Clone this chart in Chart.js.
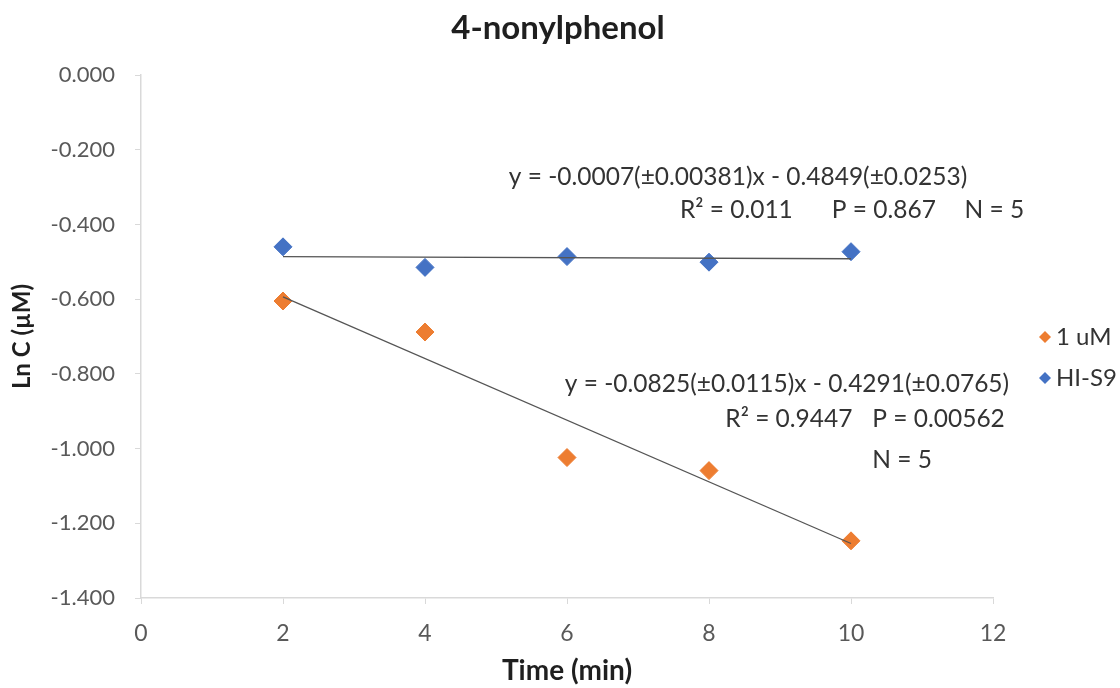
<!DOCTYPE html>
<html>
<head>
<meta charset="utf-8">
<script src="https://cdn.jsdelivr.net/npm/chart.js@4.4.1/dist/chart.umd.min.js"></script>
<style>
  html, body { margin: 0; padding: 0; background: #fff; }
</style>
</head>
<body>
<canvas id="chart" width="1120" height="688"></canvas>
<script>
// data
const times = [2, 4, 6, 8, 10];
const uMValues = [-0.605, -0.688, -1.024, -1.059, -1.247];
const hiS9Values = [-0.460, -0.515, -0.486, -0.501, -0.473];
// trendline [slope, intercept] as printed on the chart
const uMFit = [-0.0825, -0.4291];
const hiS9Fit = [-0.0007, -0.4849];
const xTicks = [0, 2, 4, 6, 8, 10, 12];
const yTicks = [0, -0.2, -0.4, -0.6, -0.8, -1.0, -1.2, -1.4];
const seriesNames = ["1 uM", "HI-S9"];
const hiS9Notes = ["y = -0.0007(\u00b10.00381)x - 0.4849(\u00b10.0253)", "R\u00b2 = 0.011", "P = 0.867", "N = 5"];
const uMNotes = ["y = -0.0825(\u00b10.0115)x - 0.4291(\u00b10.0765)", "R\u00b2 = 0.9447", "P = 0.00562", "N = 5"];

const fontFamily = "Lato, 'Open Sans', sans-serif";
const orange = "#ED7D31";
const blue = "#4472C4";
const axisGray = "#d9d9d9";
const labelGray = "#595959";
const textDark = "#333333";

const points = (ys) => times.map((t, i) => ({ x: t, y: ys[i] }));
const fitLine = (fit) => [times[0], times[times.length - 1]].map((t) => ({ x: t, y: fit[0] * t + fit[1] }));

// chart title, centred over the plot like the original
const titlePlugin = {
  id: "topTitle",
  afterDraw(chart) {
    const { ctx } = chart;
    ctx.save();
    ctx.fillStyle = "#1f1f1f";
    ctx.font = `bold 33px ${fontFamily}`;
    ctx.textAlign = "center";
    ctx.textBaseline = "middle";
    ctx.fillText("4-nonylphenol", 558, 28);
    ctx.restore();
  },
};

// regression notes anchored in data coordinates
const notePlugin = {
  id: "notes",
  afterDatasetsDraw(chart) {
    const { ctx, scales } = chart;
    const x = scales.x, y = scales.y;
    const put = (txt, xv, yv) => ctx.fillText(txt, x.getPixelForValue(xv), y.getPixelForValue(yv));
    ctx.save();
    ctx.fillStyle = textDark;
    ctx.font = `24.5px ${fontFamily}`;
    ctx.textBaseline = "middle";
    ctx.textAlign = "left";
    put(hiS9Notes[0], 5.18, -0.273);
    put(hiS9Notes[1], 7.59, -0.361);
    put(hiS9Notes[2], 9.73, -0.361);
    put(hiS9Notes[3], 11.6, -0.361);
    put(uMNotes[0], 5.97, -0.827);
    put(uMNotes[1], 8.23, -0.921);
    put(uMNotes[2], 10.3, -0.921);
    put(uMNotes[3], 10.3, -1.031);
    ctx.restore();
  },
};

// legend in the right margin, clipped by the canvas edge like the original
const legendPlugin = {
  id: "sideLegend",
  afterDraw(chart) {
    const { ctx, chartArea } = chart;
    const items = chart.data.datasets.filter((d) => d.inLegend);
    ctx.save();
    ctx.font = `24px ${fontFamily}`;
    ctx.textBaseline = "middle";
    items.forEach((d, i) => {
      const cy = 337 + i * 41;
      const cx = chartArea.right + 52;
      ctx.fillStyle = d.backgroundColor;
      ctx.beginPath();
      ctx.moveTo(cx, cy - 6);
      ctx.lineTo(cx + 6, cy);
      ctx.lineTo(cx, cy + 6);
      ctx.lineTo(cx - 6, cy);
      ctx.closePath();
      ctx.fill();
      ctx.fillStyle = textDark;
      ctx.fillText(d.label, cx + 11, cy);
    });
    ctx.restore();
  },
};

new Chart(document.getElementById("chart"), {
  type: "scatter",
  data: {
    datasets: [
      {
        label: seriesNames[0] + " trend",
        type: "line",
        data: fitLine(uMFit),
        borderColor: "#555555",
        borderWidth: 1.3,
        pointRadius: 0,
        order: 0,
      },
      {
        label: seriesNames[1] + " trend",
        type: "line",
        data: fitLine(hiS9Fit),
        borderColor: "#555555",
        borderWidth: 1.3,
        pointRadius: 0,
        order: 0,
      },
      {
        label: seriesNames[0],
        data: points(uMValues),
        backgroundColor: orange,
        borderColor: orange,
        pointStyle: "rectRot",
        pointRadius: 9,
        borderWidth: 1,
        inLegend: true,
        order: 1,
      },
      {
        label: seriesNames[1],
        data: points(hiS9Values),
        backgroundColor: blue,
        borderColor: blue,
        pointStyle: "rectRot",
        pointRadius: 9,
        borderWidth: 1,
        inLegend: true,
        order: 1,
      },
    ],
  },
  options: {
    responsive: false,
    animation: false,
    devicePixelRatio: 1,
    layout: { padding: { left: 0, right: 127, top: 75, bottom: 0 } },
    plugins: {
      legend: { display: false },
      tooltip: { enabled: false },
      title: { display: false },
    },
    scales: {
      x: {
        type: "linear",
        min: 0,
        max: 12,
        afterBuildTicks: (scale) => (scale.ticks = xTicks.map((v) => ({ value: v }))),
        afterFit: (scale) => (scale.height = 90),
        ticks: {
          color: labelGray,
          padding: 16,
          font: { family: fontFamily, size: 23 },
        },
        grid: { drawOnChartArea: false, color: axisGray, tickLength: 6 },
        border: { color: axisGray, width: 1.5 },
        title: {
          display: true,
          text: "Time (min)",
          color: "#1f1f1f",
          font: { family: fontFamily, size: 28, weight: "bold" },
          padding: { top: 0, bottom: 0 },
        },
      },
      y: {
        type: "linear",
        min: -1.4,
        max: 0,
        afterBuildTicks: (scale) => (scale.ticks = yTicks.map((v) => ({ value: v }))),
        afterFit: (scale) => (scale.width = 141),
        ticks: {
          color: labelGray,
          padding: 20,
          font: { family: fontFamily, size: 22 },
          callback: (v) => Number(v).toFixed(3),
        },
        grid: { drawOnChartArea: false, color: axisGray, tickLength: 6 },
        border: { color: axisGray, width: 1.5 },
        title: {
          display: true,
          text: "Ln C (\u00b5M)",
          color: "#1f1f1f",
          font: { family: fontFamily, size: 24, weight: "bold" },
          padding: { top: 8, bottom: 0 },
        },
      },
    },
  },
  plugins: [titlePlugin, notePlugin, legendPlugin],
});
</script>
</body>
</html>
